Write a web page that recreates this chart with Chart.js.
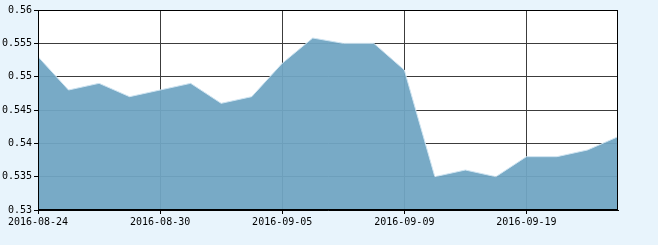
<!DOCTYPE html>
<html>
<head>
<meta charset="utf-8">
<script src="https://cdn.jsdelivr.net/npm/chart.js@4/dist/chart.umd.min.js"></script>
<style>
html,body{margin:0;padding:0;background:#e8f4fc;}
#wrap{width:658px;height:245px;position:relative;}
</style>
</head>
<body>
<div id="wrap"><canvas id="c" width="658" height="245"></canvas></div>
<script>
const dates = ['2016-08-24','2016-08-25','2016-08-26','2016-08-29','2016-08-30','2016-08-31','2016-09-01','2016-09-02','2016-09-05','2016-09-06','2016-09-07','2016-09-08','2016-09-09','2016-09-12','2016-09-13','2016-09-14','2016-09-19','2016-09-20','2016-09-21','2016-09-22'];
const values = [0.553,0.548,0.549,0.547,0.548,0.549,0.546,0.547,0.552,0.5558,0.555,0.555,0.551,0.535,0.536,0.535,0.538,0.538,0.539,0.541];
const yMin = 0.53, yMax = 0.56, yStep = 0.005;
const labelEvery = 4;

const borderPlugin = {
  id: 'border',
  afterDatasetsDraw(chart) {
    const a = chart.chartArea, ctx = chart.ctx;
    ctx.save();
    ctx.strokeStyle = '#000';
    ctx.lineWidth = 1;
    ctx.strokeRect(Math.round(a.left) + 0.5, Math.round(a.top) + 0.5, Math.round(a.right - a.left) - 1, Math.round(a.bottom - a.top) - 1);
    ctx.restore();
  }
};
const bgPlugin = {
  id: 'bg',
  beforeDraw(chart) {
    const a = chart.chartArea, ctx = chart.ctx;
    ctx.save();
    ctx.fillStyle = '#fff';
    ctx.fillRect(a.left, a.top, a.right - a.left, a.bottom - a.top);
    ctx.restore();
  }
};

new Chart(document.getElementById('c'), {
  type: 'line',
  data: {
    labels: dates,
    datasets: [{
      data: values,
      fill: 'start',
      backgroundColor: 'rgba(112,165,195,0.946)',
      borderColor: '#cfe4f1',
      borderWidth: 1,
      pointRadius: 0,
      tension: 0
    }]
  },
  options: {
    responsive: false,
    animation: false,
    devicePixelRatio: 1,
    layout: { padding: { top: 10, right: 40, left: 0, bottom: 0 } },
    plugins: { legend: { display: false }, tooltip: { enabled: false } },
    scales: {
      x: {
        type: 'category',
        offset: false,
        afterFit(s) { s.height = 35; },
        ticks: {
          autoSkip: false,
          maxRotation: 0,
          padding: 2,
          color: '#000',
          font: { family: 'DejaVu Sans Mono', size: 10 },
          callback(v, i) { return i % labelEvery === 0 ? this.getLabelForValue(v) : null; }
        },
        grid: { color: '#3c3c3c', lineWidth: 1, tickLength: 4, tickColor: '#000' },
        border: { color: '#000', width: 1 }
      },
      y: {
        min: yMin,
        max: yMax,
        afterFit(s) { s.width = 38; },
        ticks: {
          stepSize: yStep,
          padding: 2,
          color: '#000',
          font: { family: 'DejaVu Sans Mono', size: 10 },
          callback(v) { return +v.toFixed(3) + ''; }
        },
        grid: { color: '#3c3c3c', lineWidth: 1, tickLength: 4, tickColor: '#000' },
        border: { color: '#000', width: 1 }
      }
    }
  },
  plugins: [bgPlugin, borderPlugin]
});
</script>
</body>
</html>
